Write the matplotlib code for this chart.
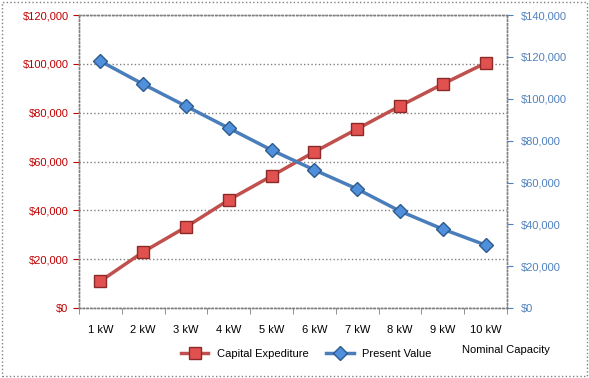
import matplotlib.pyplot as plt
from matplotlib.ticker import FuncFormatter

capacity = ['1 kW', '2 kW', '3 kW', '4 kW', '5 kW', '6 kW', '7 kW', '8 kW', '9 kW', '10 kW']
capex = [11000, 23000, 33200, 44300, 54100, 64000, 73400, 82800, 91800, 100400]
present_value = [118000, 107000, 96500, 86000, 75500, 66000, 56900, 46300, 37700, 30100]

red = '#c0504d'
blue = '#4a7ebb'

plt.rcParams['font.family'] = ['Liberation Sans', 'DejaVu Sans']

fig = plt.figure(figsize=(5.89, 3.78), dpi=100)
ax = fig.add_axes([0.134, 0.185, 0.727, 0.775])
ax2 = ax.twinx()

x = list(range(len(capacity)))
ax.plot(x, capex, color=red, lw=2.5, marker='s', ms=9, mfc='#e0514f', mec='#8b2a28',
        label='Capital Expediture', zorder=3)
ax2.plot(x, present_value, color=blue, lw=2.5, marker='D', ms=7, mfc='#4f8fdc', mec='#2e5a8c',
         label='Present Value', zorder=3)

fmt = FuncFormatter(lambda v, p: '${:,.0f}'.format(v))
ax.set_ylim(0, 120000)
ax.set_yticks(range(0, 120001, 20000))
ax.yaxis.set_major_formatter(fmt)
ax2.set_ylim(0, 140000)
ax2.set_yticks(range(0, 140001, 20000))
ax2.yaxis.set_major_formatter(fmt)
ax.set_xlim(-0.5, len(capacity) - 0.5)
ax.set_xticks(x)
ax.set_xticklabels(capacity)
ax.set_xticks([i - 0.5 for i in range(len(capacity) + 1)], minor=True)

ax.grid(axis='y', color='#808080', ls=':', lw=1)
ax.tick_params(axis='y', colors='#c00000', labelsize=8, length=4, direction='out')
ax.tick_params(axis='x', which='major', labelsize=8, length=0, pad=12)
ax.tick_params(axis='x', which='minor', length=4, color='#808080', direction='out')
ax2.tick_params(axis='y', colors='#4f81bd', labelsize=8, length=4, direction='out', pad=6)
for a in (ax, ax2):
    for s in a.spines.values():
        s.set_color('#808080')
        s.set_linestyle(':')
        s.set_linewidth(1)

h1, l1 = ax.get_legend_handles_labels()
h2, l2 = ax2.get_legend_handles_labels()
fig.legend(h1 + h2, l1 + l2, loc='center', bbox_to_anchor=(0.52, 0.063), ncol=2,
           frameon=False, fontsize=8, handlelength=2.5, columnspacing=1.5)
fig.text(0.785, 0.073, 'Nominal Capacity', fontsize=8, ha='left', va='center')

border = plt.Rectangle((0.003, 0.004), 0.993, 0.99, transform=fig.transFigure, fill=False,
                       ec='#808080', ls=':', lw=1)
fig.add_artist(border)

fig.savefig('out.png', dpi=100)
